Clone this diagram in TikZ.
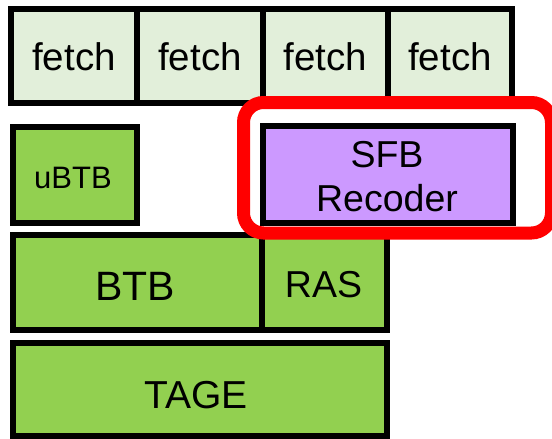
\documentclass[tikz,border=0pt]{standalone}
\usepackage{fontspec}
\setmainfont{Liberation Sans}
\definecolor{fetchfill}{HTML}{E2EFDA}
\definecolor{predgreen}{HTML}{92D050}
\definecolor{recpurple}{HTML}{CC99FF}
\definecolor{hilite}{HTML}{FF0000}
\begin{document}
\begin{tikzpicture}[x=1pt,y=-1pt,
  blk/.style={draw=black,line width=6pt,rectangle,inner sep=0pt,outer sep=0pt},
  fetchbox/.style={blk,fill=fetchfill},
  predbox/.style={blk,fill=predgreen},
  lbl/.style={anchor=base,inner sep=0pt,outer sep=0pt,align=center}]
\useasboundingbox (0,0) rectangle (552,439);

% fetch stages
\node[fetchbox,minimum width=126pt,minimum height=94pt] (f1) at (74,56) {};
\node[fetchbox,minimum width=126pt,minimum height=94pt] (f2) at (200,56) {};
\node[fetchbox,minimum width=125pt,minimum height=94pt] (f3) at (325.5,56) {};
\node[fetchbox,minimum width=124pt,minimum height=94pt] (f4) at (450,56) {};
\foreach \n/\x in {1/74,2/200,3/325.5,4/450}
  \node[lbl,font=\fontsize{38.5}{46}\selectfont] (t\n) at (\x,70.7) {fetch};

% predictors
\node[predbox,minimum width=124pt,minimum height=96pt] (ubtb) at (75,175) {};
\node[lbl,font=\fontsize{31}{37}\selectfont] (tubtb) at (73,188.3) {uBTB};

\node[blk,fill=recpurple,minimum width=250pt,minimum height=97pt] (sfb) at (388,174.5) {};
\node[lbl,font=\fontsize{37.5}{44.7}\selectfont] (tsfb) at (387,211.7) {SFB\\Recoder};

\node[predbox,minimum width=249pt,minimum height=95pt] (btb) at (137.5,282.5) {};
\node[lbl,font=\fontsize{41}{49}\selectfont] (tbtb) at (135,300) {BTB};
\node[predbox,minimum width=125pt,minimum height=95pt] (ras) at (324.5,282.5) {};
\node[lbl,font=\fontsize{37.5}{45}\selectfont] (tras) at (323.5,297.3) {RAS};

\node[predbox,minimum width=374pt,minimum height=93pt] (tage) at (200,389.5) {};
\node[lbl,font=\fontsize{39}{47}\selectfont] (ttage) at (196,408.3) {TAGE};

% highlight around the recoder
\draw[hilite,line width=13pt,rounded corners=20pt] (243.5,102.5) rectangle (551.5,233);
\end{tikzpicture}
\end{document}
